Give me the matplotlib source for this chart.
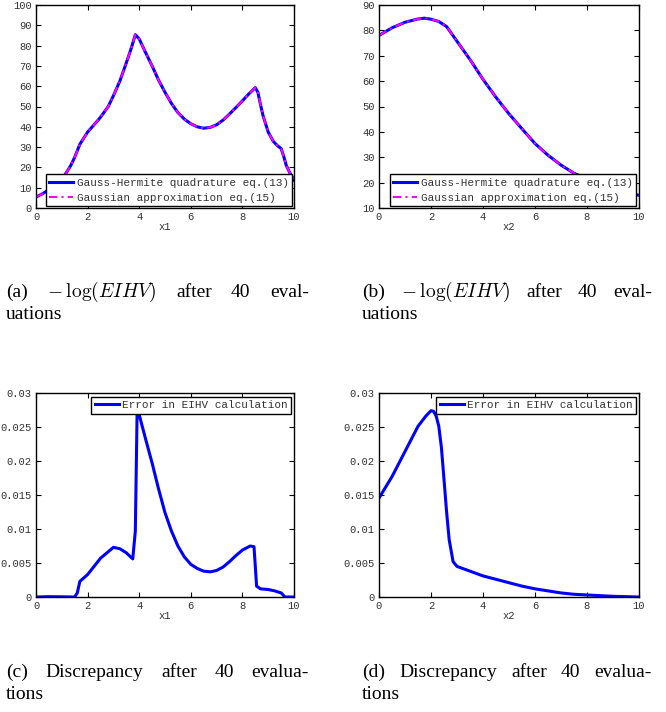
import matplotlib
matplotlib.use("Agg")
from matplotlib import pyplot as plt

# values
# (a) -log(EIHV) against x1
x1_a = [0.0, 0.25, 0.5, 0.75, 1.0, 1.2, 1.35, 1.5, 1.7, 2.0, 2.25, 2.5, 2.8, 3.0, 3.25,
        3.5, 3.7, 3.85, 4.0, 4.25, 4.5, 4.75, 5.0, 5.25, 5.5, 5.75, 6.0, 6.25, 6.5,
        6.75, 7.0, 7.25, 7.5, 7.75, 8.0, 8.25, 8.5, 8.6, 8.7, 8.8, 9.0, 9.2, 9.35,
        9.5, 9.6, 9.7, 9.85, 10.0]
gh_a = [5.4, 7.0, 9.0, 11.5, 14.0, 17.9, 21.0, 25.0, 31.4, 37.4, 41.0, 44.7, 50.0, 55.3, 62.5,
        71.5, 79.0, 85.4, 83.3, 76.5, 70.0, 63.0, 57.0, 51.5, 47.0, 43.8, 41.5, 40.0, 39.3,
        39.7, 41.0, 43.3, 46.3, 49.5, 52.8, 56.2, 59.3, 57.0, 51.0, 45.5, 37.4, 32.8, 30.8,
        29.3, 25.5, 21.0, 17.0, 13.8]

# (b) -log(EIHV) against x2
x2_b = [0.0, 0.5, 1.0, 1.5, 1.75, 2.0, 2.3, 2.6, 3.0, 3.5, 4.0, 4.5, 5.0, 5.5, 6.0,
        6.5, 7.0, 7.5, 8.0, 8.5, 9.0, 9.5, 10.0]
gh_b = [78.0, 81.0, 83.2, 84.5, 84.8, 84.4, 83.5, 81.5, 75.7, 68.5, 60.7, 53.6, 47.1, 41.2, 35.4,
        30.8, 26.9, 23.7, 21.5, 19.5, 17.8, 16.3, 15.0]

# (c) error in EIHV against x1
x1_c = [0.0, 0.5, 1.0, 1.5, 1.6, 1.7, 2.0, 2.5, 3.0, 3.25, 3.5, 3.75, 3.85, 3.92, 4.0,
        4.25, 4.5, 4.75, 5.0, 5.25, 5.5, 5.75, 6.0, 6.25, 6.5, 6.75, 7.0, 7.25, 7.5,
        7.75, 8.0, 8.3, 8.45, 8.55, 8.7, 9.0, 9.25, 9.5, 9.65, 10.0]
err_c = [0.0, 0.00005, 0.00003, 0.0, 0.0006, 0.0023, 0.0033, 0.0057, 0.0073, 0.0071, 0.0065, 0.0056, 0.0097, 0.0275, 0.0268,
         0.0232, 0.0197, 0.0159, 0.0124, 0.0097, 0.0075, 0.0059, 0.0048, 0.0042, 0.0038, 0.0037, 0.0039, 0.0044, 0.0052,
         0.0061, 0.0069, 0.0075, 0.0074, 0.0016, 0.0012, 0.0011, 0.0009, 0.0006, 0.0, 0.0]

# (d) error in EIHV against x2
x2_d = [0.0, 0.5, 1.0, 1.5, 1.8, 2.0, 2.1, 2.2, 2.3, 2.4, 2.5, 2.6, 2.7, 2.85, 3.0,
        3.5, 4.0, 4.5, 5.0, 5.5, 6.0, 6.5, 7.0, 7.5, 8.0, 9.0, 10.0]
err_d = [0.01455, 0.0177, 0.0214, 0.0251, 0.0266, 0.0274, 0.0273, 0.0266, 0.0251, 0.0220, 0.0173, 0.0125, 0.0084, 0.0052, 0.0045,
         0.0038, 0.0031, 0.0026, 0.0021, 0.0016, 0.0012, 0.0009, 0.0006, 0.0004, 0.0003, 0.0001, 0.0]

legend_gh = "Gauss-Hermite quadrature eq.(13)"
legend_ga = "Gaussian approximation eq.(15)"
legend_err = "Error in EIHV calculation"

captions = [
    ["(a) $-\\:\\log(EIHV)$ after 40 eval-", "uations"],
    ["(b) $-\\:\\log(EIHV)$ after 40 eval-", "uations"],
    ["(c) Discrepancy after 40 evalua-", "tions"],
    ["(d) Discrepancy after 40 evalua-", "tions"],
]

W, H = 666, 712
plt.rcParams['mathtext.fontset'] = 'cm'
mono = 'Liberation Mono'
fig = plt.figure(figsize=(W / 100, H / 100), dpi=100)


def px_axes(left, top, right, bottom):
    return fig.add_axes([left / W, 1 - bottom / H, (right - left) / W, (bottom - top) / H])


def style(ax, xlabel):
    ax.set_xlim(0, 10)
    ax.set_xticks(range(0, 11, 2))
    ax.tick_params(direction='in', top=True, right=True, length=3.5, width=0.8,
                   labelsize=7.6, labelcolor='#333333', pad=3)
    for lab in ax.get_xticklabels() + ax.get_yticklabels():
        lab.set_family(mono)
    for sp in ax.spines.values():
        sp.set_linewidth(1.0)
    ax.set_xlabel(xlabel, family=mono, fontsize=7.6, color='#333333', labelpad=0)


def legend(ax, loc, anchor):
    leg = ax.legend(loc=loc, bbox_to_anchor=(anchor[0] / W, 1 - anchor[1] / H),
                    bbox_transform=fig.transFigure, borderaxespad=0,
                    prop={'family': mono, 'size': 7.9}, fancybox=False, framealpha=1,
                    edgecolor='black', handlelength=2.2, handletextpad=0.3,
                    borderpad=0.3, labelspacing=0.45)
    leg.get_frame().set_linewidth(1.0)
    for t in leg.get_texts():
        t.set_color('#333333')


# (a)
ax = px_axes(36, 5, 294, 208)
ax.plot(x1_a, gh_a, color='#0000ff', lw=2.2, label=legend_gh)
ax.plot(x1_a, gh_a, color='#ff00ff', lw=1.5, ls=(0, (4, 2, 1, 2)), label=legend_ga)
ax.set_ylim(0, 100)
ax.set_yticks(range(0, 101, 10))
style(ax, 'x1')
legend(ax, 'lower right', (292, 206))

# (b)
ax = px_axes(379, 5, 639, 208)
ax.plot(x2_b, gh_b, color='#0000ff', lw=2.2, label=legend_gh)
ax.plot(x2_b, gh_b, color='#ff00ff', lw=1.5, ls=(0, (4, 2, 1, 2)), label=legend_ga)
ax.set_ylim(10, 90)
ax.set_yticks(range(10, 91, 10))
style(ax, 'x2')
legend(ax, 'lower right', (636, 206))

err_ticks = [0, 0.005, 0.01, 0.015, 0.02, 0.025, 0.03]
err_labels = ['0', '0.005', '0.01', '0.015', '0.02', '0.025', '0.03']

# (c)
ax = px_axes(36, 393, 294, 597)
ax.plot(x1_c, err_c, color='#0000ff', lw=2.2, label=legend_err)
ax.set_ylim(0, 0.03)
ax.set_yticks(err_ticks)
ax.set_yticklabels(err_labels)
style(ax, 'x1')
legend(ax, 'upper right', (291, 397))

# (d)
ax = px_axes(379, 393, 639, 597)
ax.plot(x2_d, err_d, color='#0000ff', lw=2.2, label=legend_err)
ax.set_ylim(0, 0.03)
ax.set_yticks(err_ticks)
ax.set_yticklabels(err_labels)
style(ax, 'x2')
legend(ax, 'upper right', (636, 397))

# captions, first line justified between the column edges
renderer = fig.canvas.get_renderer()
cap_font = {'family': 'Liberation Serif', 'size': 14, 'color': 'black'}
cap_pos = [(6, 309, 292), (362, 652, 292), (6, 309, 672), (362, 652, 672)]
for (first, second), (x0, x1, y) in zip(captions, cap_pos):
    merged = []
    for w in first.split(' '):
        # keep the math chunk together
        if merged and merged[-1].count('$') == 1:
            merged[-1] += ' ' + w
        else:
            merged.append(w)
    texts = [fig.text(0, 0, w, fontdict=cap_font, va='baseline', ha='left') for w in merged]
    widths = [t.get_window_extent(renderer).width for t in texts]
    gap = ((x1 - x0) - sum(widths)) / (len(texts) - 1)
    xpos = x0
    for t, w in zip(texts, widths):
        t.set_position((xpos / W, 1 - (y + 5) / H))
        xpos += w + gap
    fig.text(x0 / W, 1 - (y + 27) / H, second, fontdict=cap_font, va='baseline', ha='left')

fig.savefig('out.png', dpi=100)
